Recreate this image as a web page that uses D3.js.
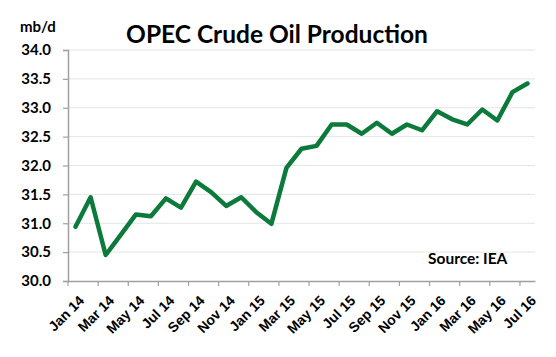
<!DOCTYPE html>
<html><head><meta charset="utf-8">
<script src="https://cdn.jsdelivr.net/npm/d3@7"></script>
<style>body{margin:0;background:#fff;}svg{display:block;}</style>
</head><body>
<script>
const months = ["Jan 14","Feb 14","Mar 14","Apr 14","May 14","Jun 14","Jul 14","Aug 14","Sep 14","Oct 14","Nov 14","Dec 14",
"Jan 15","Feb 15","Mar 15","Apr 15","May 15","Jun 15","Jul 15","Aug 15","Sep 15","Oct 15","Nov 15","Dec 15",
"Jan 16","Feb 16","Mar 16","Apr 16","May 16","Jun 16","Jul 16"];
const production = [30.94,31.45,30.45,30.80,31.15,31.12,31.43,31.27,31.72,31.54,31.30,31.45,
31.19,30.99,31.96,32.29,32.34,32.71,32.71,32.55,32.74,32.55,32.71,32.61,
32.94,32.80,32.71,32.97,32.78,33.27,33.42];
const yTicks = [30.0,30.5,31.0,31.5,32.0,32.5,33.0,33.5,34.0];
const title = "OPEC Crude Oil Production";
const unit = "mb/d";
const source = "Source: IEA";

(function(){
const W=556,H=357;
const svg=d3.select("body").append("svg").attr("width",W).attr("height",H);
const mL=68,mR=535,mT=50,mB=281;
const x=d3.scaleBand().domain(months).range([mL,mR]);
const y=d3.scaleLinear().domain([30,34]).range([mB,mT]);
const font="'Liberation Sans', Arial, sans-serif";
const tfont="Lato, 'Open Sans', sans-serif";

svg.append("g").selectAll("line").data(yTicks.filter(d=>d>30)).join("line")
 .attr("x1",mL).attr("x2",mR).attr("y1",d=>y(d)).attr("y2",d=>y(d))
 .attr("stroke","#e4e4e4").attr("stroke-width",1);

const ya=svg.append("g").attr("transform",`translate(${mL},0)`)
 .call(d3.axisLeft(y).tickValues(yTicks).tickFormat(d3.format(".1f")).tickSize(5).tickPadding(12));
ya.select(".domain").attr("stroke","#a0a0a0").attr("stroke-width",1.5);
ya.selectAll(".tick line").attr("stroke","#a0a0a0").attr("stroke-width",1.2);
ya.selectAll("text").attr("font-family",tfont).attr("font-weight","bold").attr("font-size",15).attr("fill","#000");

const xa=svg.append("g").attr("transform",`translate(0,${mB})`)
 .call(d3.axisBottom(x).tickValues([]).tickSize(0));
xa.select(".domain").attr("stroke","#a0a0a0").attr("stroke-width",1.5);
const bounds=d3.range(0,months.length+1,2);
svg.append("g").selectAll("line").data(bounds).join("line")
 .attr("x1",i=>mL+i*x.step()).attr("x2",i=>mL+i*x.step())
 .attr("y1",mB).attr("y2",mB+5).attr("stroke","#a0a0a0").attr("stroke-width",1.2);
svg.append("g").selectAll("text").data(months.filter((d,i)=>i%2===0)).join("text")
 .attr("transform",d=>`translate(${x(d)+x.bandwidth()/2+6},${mB+17}) rotate(-45)`)
 .attr("text-anchor","end").attr("dy","0.35em")
 .attr("font-family",font).attr("font-weight","bold").attr("font-size",14).attr("fill","#000")
 .text(d=>d);

const line=d3.line().x((d,i)=>x(months[i])+x.bandwidth()/2).y(d=>y(d));
svg.append("path").datum(production).attr("d",line).attr("fill","none")
 .attr("stroke","#0b7a3a").attr("stroke-width",4.5).attr("stroke-linejoin","round").attr("stroke-linecap","round");

svg.append("text").attr("x",277).attr("y",43).attr("text-anchor","middle")
 .attr("font-family",tfont).attr("font-weight","bold").attr("font-size",24.5).attr("fill","#000").text(title);
svg.append("text").attr("x",20).attr("y",32)
 .attr("font-family",tfont).attr("font-weight","bold").attr("font-size",15).attr("fill","#000").text(unit);
svg.append("text").attr("x",428).attr("y",264)
 .attr("font-family",tfont).attr("font-weight","bold").attr("font-size",15.5).attr("fill","#000").text(source);
})();
</script>
</body></html>
